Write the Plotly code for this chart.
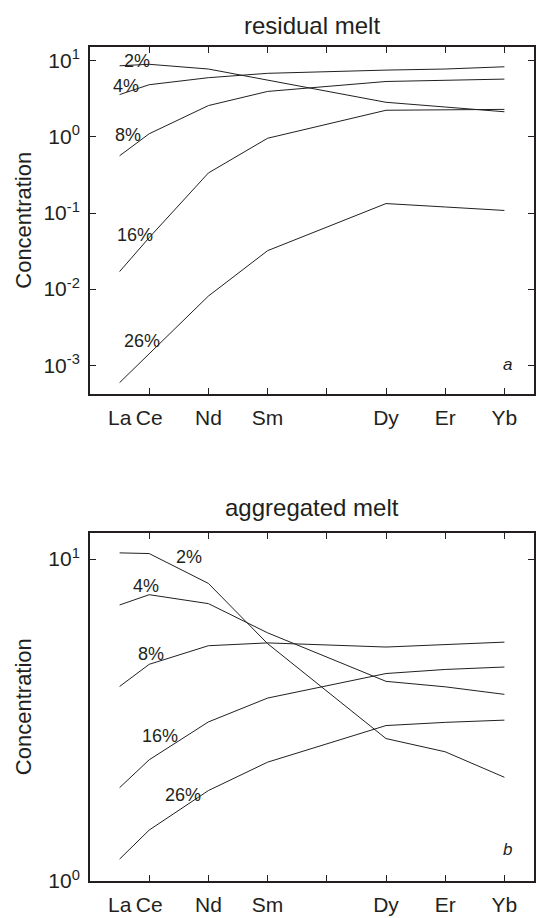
import plotly.graph_objects as go

# REE positions on the x axis (atomic number) and their symbols
ree_z = [57, 58, 60, 62, 66, 68, 70]
ree_names = ["La", "Ce", "Nd", "Sm", "Dy", "Er", "Yb"]

# Degree-of-melting labels
melt_pct = ["2%", "4%", "8%", "16%", "26%"]

# Panel a: residual melt concentrations
residual_2 = [8.6, 9.0, 7.8, 5.6, 2.85, 2.47, 2.14]
residual_4 = [3.6, 4.85, 6.0, 6.85, 7.55, 7.8, 8.35]
residual_8 = [0.565, 1.1, 2.58, 3.96, 5.35, 5.53, 5.75]
residual_16 = [0.017, 0.0475, 0.336, 0.96, 2.24, 2.25, 2.3]
residual_26 = [0.00059, 0.0014, 0.0081, 0.032, 0.133, 0.12, 0.108]

# Panel b: aggregated melt concentrations
aggregated_2 = [10.45, 10.4, 8.4, 5.46, 2.77, 2.52, 2.1]
aggregated_4 = [7.2, 7.75, 7.27, 5.9, 4.17, 4.01, 3.8]
aggregated_8 = [4.02, 4.71, 5.38, 5.49, 5.33, 5.43, 5.52]
aggregated_16 = [1.95, 2.38, 3.12, 3.7, 4.41, 4.54, 4.62]
aggregated_26 = [1.17, 1.44, 1.91, 2.34, 3.04, 3.11, 3.16]

residual = [residual_2, residual_4, residual_8, residual_16, residual_26]
aggregated = [aggregated_2, aggregated_4, aggregated_8, aggregated_16, aggregated_26]

INK = "#231f20"
FONT = "Liberation Sans, Arial, Helvetica, sans-serif"

fig = go.Figure()

for vals, name in zip(residual, melt_pct):
    fig.add_trace(go.Scatter(x=ree_z, y=vals, mode="lines", name=name,
                             line=dict(color=INK, width=1),
                             xaxis="x", yaxis="y", showlegend=False))
for vals, name in zip(aggregated, melt_pct):
    fig.add_trace(go.Scatter(x=ree_z, y=vals, mode="lines", name=name,
                             line=dict(color=INK, width=1),
                             xaxis="x2", yaxis="y2", showlegend=False))

x_range = [56, 71]
# tick marks every second element from Ce; La carries a label but no tick
tick_z = [58, 60, 62, 64, 66, 68, 70]
tick_text = [dict(zip(ree_z, ree_names)).get(z, " ") for z in tick_z]

frame = dict(showline=True, linewidth=2, linecolor=INK, mirror="ticks",
             ticks="inside", ticklen=6, tickwidth=1, tickcolor=INK,
             showgrid=False, zeroline=False,
             tickfont=dict(family=FONT, size=21, color=INK))

def sup(p):
    return "10<sup>%s</sup>" % (str(p) if p >= 0 else "-" + str(-p))

top_pows = [-3, -2, -1, 0, 1]
bot_pows = [0, 1]

dom_top = [0.5661, 0.9491]
dom_bot = [0.02865, 0.41285]

LABEL_GAP = 4

fig.update_layout(
    width=536, height=918,
    margin=dict(l=90, r=1, t=0, b=0),
    paper_bgcolor="white", plot_bgcolor="white",
    font=dict(family=FONT, color=INK),
    xaxis=dict(frame, domain=[0, 1], range=x_range, anchor="y",
               tickvals=tick_z, ticktext=tick_text, ticklabelstandoff=LABEL_GAP),
    yaxis=dict(frame, domain=dom_top, type="log", range=[-3.38, 1.18],
               anchor="x", tickvals=[10 ** p for p in top_pows],
               ticktext=[sup(p) for p in top_pows], ticklabelstandoff=4),
    xaxis2=dict(frame, domain=[0, 1], range=x_range, anchor="y2",
                tickvals=tick_z, ticktext=tick_text, ticklabelstandoff=LABEL_GAP),
    yaxis2=dict(frame, domain=dom_bot, type="log", range=[0, 1.081],
                anchor="x2", tickvals=[10 ** p for p in bot_pows],
                ticktext=[sup(p) for p in bot_pows], ticklabelstandoff=4),
)

annotations = []

# "La" label (no tick mark at La), aligned with the axis tick labels
for xr, yr in (("x", "y domain"), ("x2", "y2 domain")):
    annotations.append(dict(text=ree_names[0], xref=xr, yref=yr, x=ree_z[0], y=0,
                            xanchor="center", yanchor="top", yshift=-LABEL_GAP - 6,
                            showarrow=False,
                            font=dict(family=FONT, size=21, color=INK)))

# Panel titles
annotations.append(dict(text="residual melt", xref="paper", yref="paper",
                        x=0.5, y=0.9735, xanchor="center", yanchor="middle",
                        showarrow=False,
                        font=dict(family=FONT, size=24, color=INK)))
annotations.append(dict(text="aggregated melt", xref="paper", yref="paper",
                        x=0.5, y=0.4412, xanchor="center", yanchor="middle",
                        showarrow=False,
                        font=dict(family=FONT, size=24, color=INK)))

# y-axis titles
for dom in (dom_top, dom_bot):
    annotations.append(dict(text="Concentration", xref="paper", yref="paper",
                            x=-0.1506, y=(dom[0] + dom[1]) / 2, textangle=-90,
                            showarrow=False, xanchor="center", yanchor="middle",
                            font=dict(family=FONT, size=22, color=INK)))

# Curve labels (x in atomic number, y in log10 concentration)
top_label_pos = [(57.59, 1.0), (57.21, 0.668), (57.27, 0.026),
                 (57.51, -1.283), (57.75, -2.683)]
bot_label_pos = [(59.34, 1.005), (57.88, 0.915), (58.06, 0.706),
                 (58.36, 0.451), (59.15, 0.2676)]
for name, (lx, ly) in zip(melt_pct, top_label_pos):
    annotations.append(dict(text=name, xref="x", yref="y", x=lx, y=ly,
                            xanchor="center", yanchor="middle", showarrow=False,
                            font=dict(family=FONT, size=18, color=INK)))
for name, (lx, ly) in zip(melt_pct, bot_label_pos):
    annotations.append(dict(text=name, xref="x2", yref="y2", x=lx, y=ly,
                            xanchor="center", yanchor="middle", showarrow=False,
                            font=dict(family=FONT, size=18, color=INK)))

# Panel letters
annotations.append(dict(text="<i>a</i>", xref="x", yref="y", x=70.09, y=-2.986,
                        showarrow=False, font=dict(family=FONT, size=17, color=INK)))
annotations.append(dict(text="<i>b</i>", xref="x2", yref="y2", x=70.11, y=0.099,
                        showarrow=False, font=dict(family=FONT, size=17, color=INK)))

fig.update_layout(annotations=annotations)

fig.write_html("out.html")
